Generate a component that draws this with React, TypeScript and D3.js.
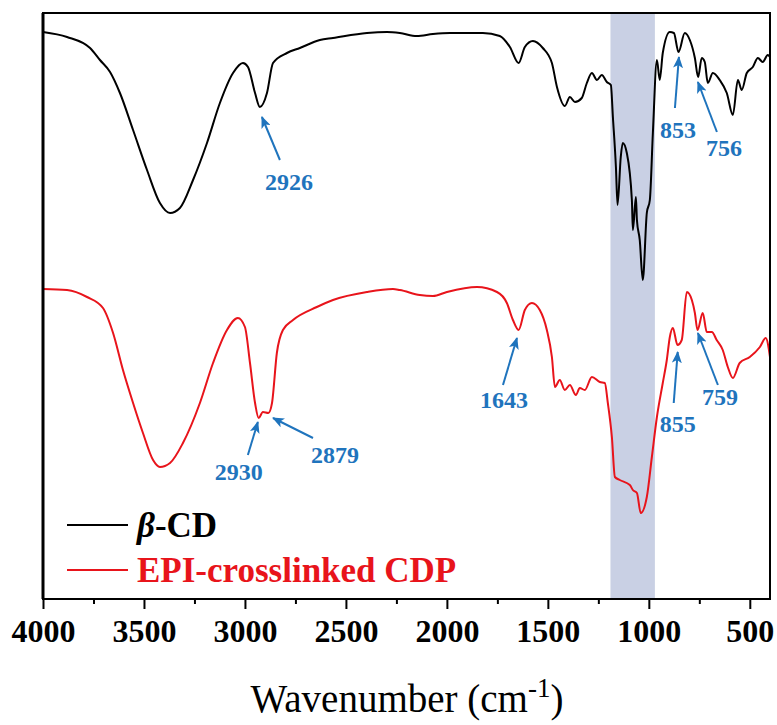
import React, { useEffect, useRef } from 'react';
import * as d3 from 'd3';

// Wavenumbers (cm-1) and transmittance (a.u., offset)
const cdWavenumber = [4000, 3881, 3767, 3718, 3668, 3619, 3554, 3485, 3421, 3371, 3322, 3257, 3188, 3124, 3059, 3010, 2985, 2950, 2926, 2891, 2861, 2792, 2728, 2629, 2564, 2396, 2297, 2233, 2149, 2069, 1985, 1822, 1738, 1688, 1645, 1614, 1574, 1525, 1480, 1455, 1416, 1391, 1366, 1332, 1307, 1282, 1257, 1233, 1208, 1188, 1178, 1163, 1155, 1139, 1129, 1109, 1084, 1079, 1064, 1059, 1045, 1030, 1010, 995, 980, 960, 946, 931, 896, 876, 853, 822, 797, 772, 756, 738, 723, 708, 683, 649, 614, 584, 559, 540, 515, 485, 460, 436, 411, 400];
const cdValues = [283.5, 281, 275.5, 269.5, 263.5, 253, 234.5, 214.5, 198, 193, 195.5, 209.5, 228, 248, 263, 268, 266, 253, 246, 253, 268, 273, 275.5, 279.5, 280.5, 283, 283.5, 283, 281.5, 282.5, 283, 283, 281.5, 276, 268, 276, 279, 275.5, 268, 256, 246.5, 251, 248.5, 250.5, 258, 263, 259.5, 262, 258.5, 257, 241, 216, 197, 221, 228, 223, 199.5, 184.5, 201, 189.5, 179.5, 159.5, 193, 199.5, 233, 269.5, 259.5, 273, 283.5, 283, 273.5, 283, 279.5, 270.5, 261, 270.5, 268.5, 258, 263, 259.5, 253, 242, 259.5, 254.5, 263, 266, 270.5, 268.5, 272, 271];

const cdpWavenumber = [4000, 3881, 3782, 3703, 3653, 3604, 3554, 3505, 3455, 3421, 3371, 3307, 3223, 3158, 3089, 3035, 3000, 2975, 2950, 2932, 2911, 2884, 2866, 2842, 2812, 2762, 2644, 2564, 2396, 2267, 2233, 2134, 2069, 2000, 1851, 1752, 1703, 1673, 1645, 1614, 1579, 1540, 1505, 1480, 1465, 1441, 1416, 1391, 1361, 1342, 1317, 1282, 1243, 1218, 1203, 1183, 1168, 1144, 1094, 1079, 1059, 1040, 1010, 985, 960, 931, 911, 896, 881, 858, 837, 812, 787, 772, 759, 733, 713, 688, 664, 634, 609, 584, 550, 500, 450, 421, 400];
const cdpValues = [155, 154.5, 151, 145.5, 133, 114.5, 98, 83, 69.5, 66, 68, 78, 98, 118, 134.5, 140.5, 136, 118, 98, 90.5, 93.5, 93, 98, 123, 134.5, 139.5, 146, 149.5, 153.5, 155, 154.5, 152, 151.5, 153.5, 156, 153.5, 148, 139.5, 134.5, 144.5, 148, 144.5, 134.5, 121, 106, 109.5, 104.5, 107, 102, 105.5, 104.5, 111, 108.5, 108, 98, 81, 61, 59.5, 57, 54.5, 53, 43, 51, 71, 91, 108, 119.5, 131, 135.5, 127, 129.5, 153.5, 149.5, 143, 134.5, 143, 133.5, 133.5, 129.5, 124.5, 116, 110.5, 118, 121, 126, 130.5, 121];

const seriesNames = ['β-CD', 'EPI-crosslinked CDP'];
const seriesColors = ['#000000', '#e8141b'];

const majorTicks = [4000, 3500, 3000, 2500, 2000, 1500, 1000, 500];
const minorTicks = [3750, 3250, 2750, 2250, 1750, 1250, 750];

// Highlighted band (cm-1)
const bandRange = [1190, 970];

// Peak labels: arrow tip on the spectrum, tail and label offsets in px
const peakLabels = ['2926', '853', '756', '2930', '2879', '1643', '855', '759'];
const peakTipWn = [2916, 851, 757, 2936, 2861, 1653, 857, 757];
const peakTipVal = [241, 271, 258.5, 88.5, 90.5, 130.5, 123.5, 133];
const peakTail = [[18, 43], [-4, 51], [19, 50], [-10, 33], [40, 20], [-14, 47], [-4, 51], [20, 52]];
const peakText = [[9, 30], [3, 30], [7, 24], [-9, 25], [22, 25], [1, 23], [4, 29], [2, 20]];

const App = () => {
    const svgRef = useRef<SVGSVGElement>(null);

    useEffect(() => {
        document.body.style.margin = '0';
        const svg = d3.select(svgRef.current);
        svg.selectAll('*').remove();

        const W = 777, H = 725;
        const left = 43, right = 770, top = 13, bottom = 599;
        const font = '"Liberation Serif", "Times New Roman", serif';
        const blue = '#1f74bd';

        svg.attr('width', W).attr('height', H);

        const x = d3.scaleLinear().domain([4000, 400]).range([left, right]);
        const y = d3.scaleLinear().domain([0, 293]).range([bottom, top]);

        // Shaded band
        svg.append('rect')
            .attr('x', x(bandRange[0]))
            .attr('y', top)
            .attr('width', x(bandRange[1]) - x(bandRange[0]))
            .attr('height', bottom - top)
            .attr('fill', '#c9d0e4');

        // Spectra
        const line = d3.line<[number, number]>()
            .x(d => x(d[0]))
            .y(d => y(d[1]))
            .curve(d3.curveMonotoneX);

        const series = [
            cdWavenumber.map((w, i) => [w, cdValues[i]] as [number, number]),
            cdpWavenumber.map((w, i) => [w, cdpValues[i]] as [number, number]),
        ];
        series.forEach((s, i) => {
            svg.append('path')
                .datum(s)
                .attr('d', line)
                .attr('fill', 'none')
                .attr('stroke', seriesColors[i])
                .attr('stroke-width', 2)
                .attr('stroke-linejoin', 'round');
        });

        // Frame
        svg.append('rect')
            .attr('x', left).attr('y', top)
            .attr('width', right - left).attr('height', bottom - top)
            .attr('fill', 'none').attr('stroke', '#000').attr('stroke-width', 2);
        svg.append('line')
            .attr('x1', left).attr('x2', left).attr('y1', top).attr('y2', bottom)
            .attr('stroke', '#000').attr('stroke-width', 3);

        // X axis
        const gx = svg.append('g').attr('transform', `translate(0,${bottom})`);
        gx.call(d3.axisBottom(x).tickValues(majorTicks).tickSize(10).tickPadding(10).tickFormat(d3.format('d')));
        gx.select('.domain').remove();
        gx.selectAll('line').attr('stroke-width', 2);
        gx.selectAll('text')
            .attr('font-family', font)
            .attr('font-weight', 'bold')
            .attr('font-size', 32)
            .attr('fill', '#000');
        const gm = svg.append('g').attr('transform', `translate(0,${bottom})`);
        gm.call(d3.axisBottom(x).tickValues(minorTicks).tickSize(5).tickFormat(() => ''));
        gm.select('.domain').remove();
        gm.selectAll('line').attr('stroke-width', 2);

        // Axis title
        const title = svg.append('text')
            .attr('x', 407).attr('y', 712)
            .attr('text-anchor', 'middle')
            .attr('font-family', font)
            .attr('font-size', 39)
            .attr('fill', '#000');
        title.append('tspan').text('Wavenumber (cm');
        title.append('tspan').attr('dy', -15).attr('font-size', 27).text('-1');
        title.append('tspan').attr('dy', 15).text(')');

        // Arrow marker
        svg.append('defs').append('marker')
            .attr('id', 'arrowhead')
            .attr('viewBox', '0 0 12 10')
            .attr('refX', 11).attr('refY', 5)
            .attr('markerWidth', 12).attr('markerHeight', 10)
            .attr('markerUnits', 'userSpaceOnUse')
            .attr('orient', 'auto')
            .append('path')
            .attr('d', 'M0,0 L12,5 L0,10 L3,5 Z')
            .attr('fill', blue);

        // Peak annotations
        peakLabels.forEach((label, i) => {
            const tx = x(peakTipWn[i]);
            const ty = y(peakTipVal[i]);
            const sx = tx + peakTail[i][0];
            const sy = ty + peakTail[i][1];
            svg.append('line')
                .attr('x1', sx).attr('y1', sy)
                .attr('x2', tx).attr('y2', ty)
                .attr('stroke', blue).attr('stroke-width', 2)
                .attr('marker-end', 'url(#arrowhead)');
            svg.append('text')
                .attr('x', sx + peakText[i][0])
                .attr('y', sy + peakText[i][1])
                .attr('text-anchor', 'middle')
                .attr('font-family', font)
                .attr('font-weight', 'bold')
                .attr('font-size', 24)
                .attr('fill', blue)
                .text(label);
        });

        // Legend
        const legendY = [525, 570];
        seriesNames.forEach((name, i) => {
            svg.append('line')
                .attr('x1', 67).attr('x2', 128)
                .attr('y1', legendY[i]).attr('y2', legendY[i])
                .attr('stroke', seriesColors[i]).attr('stroke-width', 2);
            const t = svg.append('text')
                .attr('x', 137).attr('y', legendY[i] + 12)
                .attr('font-family', font)
                .attr('font-weight', 'bold')
                .attr('font-size', 35)
                .attr('fill', seriesColors[i]);
            if (name.startsWith('β')) {
                t.append('tspan').attr('font-style', 'italic').text('β');
                t.append('tspan').text(name.slice(1));
            } else {
                t.text(name);
            }
        });
    }, []);

    return <svg ref={svgRef}></svg>;
};

export default App;
